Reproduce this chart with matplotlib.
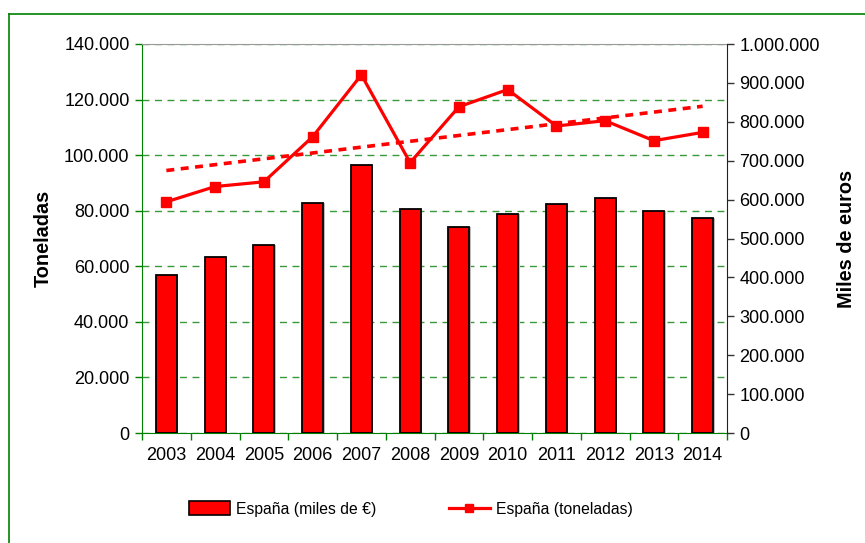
import matplotlib
matplotlib.use("Agg")
import matplotlib.pyplot as plt
from matplotlib.ticker import FuncFormatter, MultipleLocator
from matplotlib.patches import Rectangle
from matplotlib.lines import Line2D
import numpy as np

plt.rcParams['font.family'] = ['Liberation Sans', 'DejaVu Sans']

years = ['2003', '2004', '2005', '2006', '2007', '2008', '2009', '2010',
         '2011', '2012', '2013', '2014']
miles_euros = [406000, 453500, 483500, 592000, 689000, 575000, 530500, 562000,
               588000, 605000, 571000, 553500]
toneladas = [83200, 88700, 90400, 106600, 128900, 97300, 117400, 123600,
             110500, 112400, 105200, 108200]

W, H = 865, 543
fig = plt.figure(figsize=(W / 100, H / 100), dpi=100)
fig.subplots_adjust(left=142 / W, right=727 / W, bottom=1 - 433 / H, top=1 - 44 / H)

green = '#008000'
grid_green = '#3a9a3a'

ax = fig.add_subplot(111)
ax2 = ax.twinx()
ax3 = ax.twinx()

x = np.arange(len(years))

def fmt(v, pos):
    return f"{int(round(v)):,}".replace(',', '.')

# left axis (toneladas) with grid
ax.set_ylim(0, 140000)
ax.yaxis.set_major_locator(MultipleLocator(20000))
ax.yaxis.set_major_formatter(FuncFormatter(fmt))
ax.set_xlim(-0.5, len(years) - 0.5)
ax.grid(axis='y', color=grid_green, linestyle=(0, (5, 4)), linewidth=1.0)
ax.set_xticks(x)
ax.set_xticklabels(years)
ax.set_xticks(np.arange(-0.5, len(years), 1), minor=True)
ax.tick_params(axis='x', which='major', length=0, pad=10, labelsize=13)
ax.tick_params(axis='x', which='minor', length=5, color=green, width=1)
ax.tick_params(axis='y', length=5, color=green, width=1, labelsize=13, pad=4)
ax.spines['left'].set_color(green)
ax.spines['bottom'].set_color(green)
ax.spines['top'].set_color('#999999')
ax.spines['right'].set_visible(False)
ax.set_ylabel('Toneladas', fontsize=14.3, fontweight='bold', labelpad=8)

# right axis (miles de euros) with bars
ax2.set_ylim(0, 1000000)
ax2.yaxis.set_major_locator(MultipleLocator(100000))
ax2.yaxis.set_major_formatter(FuncFormatter(fmt))
ax2.tick_params(axis='y', length=5, color='#333333', width=1, labelsize=13, pad=4)
for s in ['left', 'top', 'bottom']:
    ax2.spines[s].set_visible(False)
ax2.spines['right'].set_color('#222222')
ax2.set_ylabel('Miles de euros', fontsize=14.3, fontweight='bold', labelpad=12)
# shadow bars
ax2.bar(x + 0.03, miles_euros, width=0.43, color='#bbbbbb', edgecolor='none', zorder=1)
bars = ax2.bar(x, miles_euros, width=0.43, color='#ff0000', edgecolor='black',
               linewidth=1.3, zorder=2, label='España (miles de €)')

# line axis (same scale as left)
ax3.set_ylim(ax.get_ylim())
ax3.set_xlim(ax.get_xlim())
ax3.axis('off')
line, = ax3.plot(x, toneladas, color='#ff0000', linewidth=2.3, marker='s',
                 markersize=7.5, label='España (toneladas)', zorder=3)
coef = np.polyfit(x, toneladas, 1)
ax3.plot(x, np.polyval(coef, x), color='#ff0000', linewidth=2.6,
         linestyle=(0, (2.2, 1.8)), zorder=2)

# legend
handles = [Rectangle((0, 0), 1, 1, facecolor='#ff0000', edgecolor='black', linewidth=1.2),
           Line2D([0], [0], color='#ff0000', linewidth=2.3, marker='s', markersize=6)]
fig.legend(handles, ['España (miles de €)', 'España (toneladas)'],
           loc='center', bbox_to_anchor=(411 / W, 1 - 509 / H), ncol=2,
           frameon=False, fontsize=11.3, columnspacing=4.6, handlelength=2.6,
           handleheight=0.95, handletextpad=0.4)

# outer green border (top and left)
fig.add_artist(Line2D([8.5 / W, 8.5 / W], [0, 1 - 14 / H], transform=fig.transFigure,
                      color=green, linewidth=1.2))
fig.add_artist(Line2D([8.5 / W, 1], [1 - 14 / H, 1 - 14 / H], transform=fig.transFigure,
                      color=green, linewidth=1.2))

fig.savefig('out.png', dpi=100)
